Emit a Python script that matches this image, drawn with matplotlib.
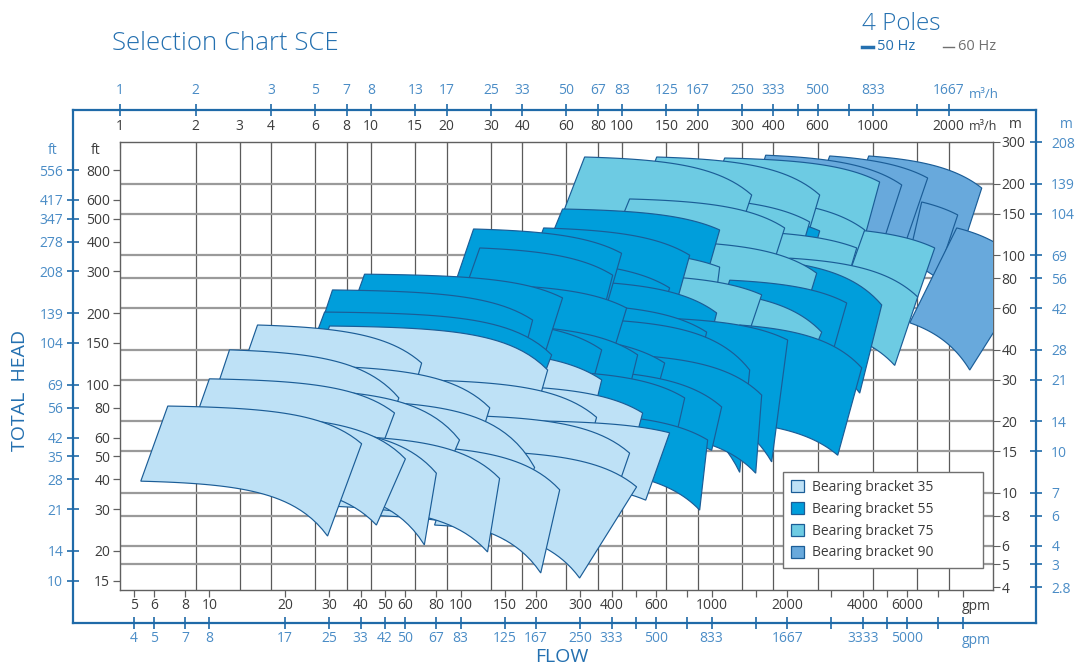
import numpy as np
import matplotlib.pyplot as plt
from matplotlib.patches import Polygon, Patch
from matplotlib.ticker import NullFormatter, NullLocator

plt.rcParams['font.family'] = ['Open Sans', 'DejaVu Sans']

# ---- axis values ----
flow_ticks = [1, 2, 3, 4, 6, 8, 10, 15, 20, 30, 40, 60, 80, 100, 150, 200, 300, 400, 600, 1000, 2000]
flow_60_pos = [1, 2, 4, 6, 8, 10, 15, 20, 30, 40, 60, 80, 100, 150, 200, 300, 400, 600, 1000, 2000]
flow_60_lab = ['1', '2', '3', '5', '7', '8', '13', '17', '25', '33', '50', '67', '83', '125', '167',
               '250', '333', '500', '833', '1667']
gpm_ticks = [5, 6, 8, 10, 20, 30, 40, 50, 60, 80, 100, 150, 200, 300, 400, 600, 1000, 2000, 4000, 6000]
gpm_60_lab = ['4', '5', '7', '8', '17', '25', '33', '42', '50', '67', '83', '125', '167', '250', '333',
              '500', '833', '1667', '3333', '5000']
gpm_minor = [500, 800, 1500, 3000, 5000, 8000, 10000]
head_m = [300, 200, 150, 100, 80, 60, 40, 30, 20, 15, 10, 8, 6, 5, 4]
head_m_60 = ['208', '139', '104', '69', '56', '42', '28', '21', '14', '10', '7', '6', '4', '3', '2.8']
head_ft = [800, 600, 500, 400, 300, 200, 150, 100, 80, 60, 50, 40, 30, 20, 15]
head_ft_60 = ['556', '417', '347', '278', '208', '139', '104', '69', '56', '42', '35', '28', '21', '14', '10']
grid_flow = [2, 3, 4, 6, 8, 10, 15, 20, 30, 40, 60, 80, 100, 150, 200, 300, 400, 600, 1000, 1500, 2000]
grid_head = [200, 150, 100, 80, 60, 40, 30, 20, 15, 10, 8, 6, 5]

GPM = 4.403      # gpm per m3/h
FT = 0.285       # chart's ft label placement (m per ft as drawn)

# ---- pump range tiles: corners top-left, top-right, bottom-right, bottom-left (m3/h, m) ----
bb35_qtl = [3.53, 6.83, 20.5, 2.73, 5.19, 15.6, 24.7, 2.27, 3.60, 6.83, 18.7, 32.5, 1.55, 2.38, 3.66, 6.23, 11.85, 22.5]
bb35_htl = [50.9, 50.4, 40.0, 40.0, 34.4, 29.9, 28.5, 30.2, 27.6, 24.6, 21.3, 20.2, 23.2, 21.3, 19.3, 17.5, 15.9, 15.1]
bb35_qtr = [15.9, 50.5, 82.9, 12.9, 29.7, 79.1, 120.7, 12.4, 22.5, 44.8, 107.1, 154.6, 9.17, 13.7, 18.2, 32.5, 56.4, 114.2]
bb35_htr = [35.2, 32.9, 29.9, 25.1, 22.8, 20.8, 21.7, 21.7, 16.7, 12.8, 14.7, 17.9, 16.1, 13.9, 12.1, 11.5, 10.3, 10.6]
bb35_qbr = [13.0, 40.9, 70.9, 10.3, 24.2, 67.7, 102.3, 9.17, 17.1, 34.0, 81.4, 124.1, 6.71, 10.5, 16.3, 29.1, 47.4, 67.7]
bb35_hbr = [16.7, 15.1, 15.1, 12.5, 11.3, 11.3, 11.3, 9.32, 8.46, 6.34, 6.34, 9.32, 6.58, 7.32, 6.04, 5.64, 4.60, 4.38]
bb35_qbl = [2.78, 5.43, 16.3, 2.17, 4.13, 12.4, 19.6, 1.79, 2.86, 5.43, 14.9, 25.8, 1.21, 1.89, 2.94, 5.00, 9.42, 17.9]
bb35_hbl = [24.6, 24.1, 20.2, 19.3, 16.7, 15.1, 14.4, 14.8, 13.7, 12.5, 10.8, 11.3, 11.2, 11.3, 11.0, 8.88, 8.06, 7.32]

bb55_qtl = [57.9, 25.6, 48.7, 27.1, 293.9, 9.42, 7.02, 6.53, 56.4, 32.5, 81.4, 24.7, 32.5, 46.9, 61.8, 81.4,
            74.2, 107.1, 141.1, 89.2, 89.2, 293.9, 268.2, 293.9]
bb55_htl = [156.7, 129.1, 130.4, 107.4, 149.3, 83.3, 71.5, 57.7, 93.6, 75.0, 77.1, 53.4, 50.9, 46.1, 32.3, 21.3,
            61.8, 38.1, 54.5, 53.4, 32.3, 97.3, 78.6, 50.9]
bb55_qtr = [244.6, 99.5, 185.8, 91.7, 612.2, 57.9, 44.0, 52.4, 154.6, 104.2, 237.9, 82.9, 115.3, 147.7, 177.5, 219.1,
            217.1, 359.6, 456.4, 322.1, 249.1, 1081, 784.3, 900.0]
bb55_htr = [127.9, 102.0, 100.1, 82.5, 126.7, 66.2, 53.4, 38.1, 72.9, 60.0, 57.2, 40.0, 38.1, 35.2, 25.1, 16.7,
            47.5, 25.8, 44.0, 32.9, 23.0, 61.8, 63.0, 33.6]
bb55_qbr = [203.6, 81.4, 157.5, 77.7, 509.6, 46.9, 39.0, 44.8, 128.7, 85.2, 203.6, 70.9, 99.5, 122.9, 157.5, 203.6,
            185.8, 340.4, 394.1, 293.9, 227.3, 883.6, 641.0, 722.3]
bb55_hbr = [64.9, 48.5, 53.4, 41.8, 64.9, 32.9, 32.9, 24.6, 40.0, 29.9, 29.9, 22.3, 20.2, 17.5, 14.4, 8.46,
            24.6, 12.1, 13.5, 12.2, 15.1, 26.3, 29.9, 14.4]
bb55_qbl = [46.9, 21.5, 40.9, 22.9, 233.6, 7.84, 6.12, 5.69, 46.9, 27.1, 67.7, 20.5, 27.1, 39.0, 51.4, 74.2,
            61.8, 93.4, 117.4, 77.7, 77.7, 244.6, 223.2, 233.6]
bb55_hbl = [90.9, 75.0, 78.6, 64.9, 82.5, 48.5, 46.1, 39.2, 53.4, 41.8, 41.8, 29.9, 28.5, 24.6, 18.4, 12.5,
            34.4, 18.4, 24.6, 24.6, 18.4, 44.0, 41.8, 20.2]

bb75_qtl = [70.9, 137.3, 256.1, 107.1, 185.8, 353.1, 671.0, 464.9, 185.8, 141.1, 117.4, 141.1, 353.1]
bb75_htl = [259.4, 259.4, 256.9, 172.7, 174.4, 171.1, 130.4, 97.3, 71.5, 81.7, 103.0, 115.0, 125.5]
bb75_qtr = [328.1, 612.2, 1061, 444.0, 558.5, 924.9, 1758, 1504, 623.5, 359.6, 244.6, 595.6, 859.8]
bb75_htr = [179.5, 179.5, 203.6, 130.4, 138.2, 127.9, 107.4, 66.8, 47.5, 68.2, 89.2, 84.1, 107.4]
bb75_qbr = [256.1, 509.6, 883.6, 359.6, 464.9, 735.6, 1504, 1218, 486.8, 307.6, 227.3, 486.8, 735.6]
bb75_hbr = [82.5, 93.6, 100.1, 64.9, 71.5, 64.9, 66.8, 34.4, 25.1, 41.8, 48.5, 41.8, 61.8]
bb75_qbl = [53.8, 109.1, 203.6, 85.2, 147.7, 280.6, 533.5, 387.0, 154.6, 117.4, 93.4, 112.1, 293.9]
bb75_hbl = [121.9, 134.2, 134.2, 95.5, 100.1, 93.6, 71.5, 52.3, 35.8, 48.5, 71.5, 64.9, 71.5]

bb90_qtl = [373, 671, 960, 1560, 2151]
bb90_htl = [264, 262, 262, 167.7, 130.4]
bb90_qtr = [1299, 1648, 2706, 2171, 4203]
bb90_htr = [197.8, 211.6, 192, 147.9, 82.6]
bb90_qbr = [1014, 1335, 2171, 1791, 2424]
bb90_hbr = [88.5, 110.6, 93.7, 80.3, 32.9]
bb90_qbl = [308, 533, 735, 1373, 1398]
bb90_hbl = [134, 134, 121.8, 93.7, 52.0]

groups = [
    ('Bearing bracket 35', '#bee1f6', bb35_qtl, bb35_htl, bb35_qtr, bb35_htr, bb35_qbr, bb35_hbr, bb35_qbl, bb35_hbl),
    ('Bearing bracket 55', '#009edb', bb55_qtl, bb55_htl, bb55_qtr, bb55_htr, bb55_qbr, bb55_hbr, bb55_qbl, bb55_hbl),
    ('Bearing bracket 75', '#6dcbe3', bb75_qtl, bb75_htl, bb75_qtr, bb75_htr, bb75_qbr, bb75_hbr, bb75_qbl, bb75_hbl),
    ('Bearing bracket 90', '#68a9dc', bb90_qtl, bb90_htl, bb90_qtr, bb90_htr, bb90_qbr, bb90_hbr, bb90_qbl, bb90_hbl),
]
EDGE = '#1b5d97'
BLUE = '#1f6aa8'
LBLUE = '#4a8cc6'
DARK = '#3c3c3c'

W, H = 1076, 665
fig = plt.figure(figsize=(W / 100, H / 100), dpi=100)


def box(x0, y0, x1, y1):
    return [x0 / W, 1 - y1 / H, (x1 - x0) / W, (y1 - y0) / H]


# outer (60 Hz) frame
X0, X1, Y0, Y1 = 120, 993, 142, 590
XL = (1, 3000)
YL = (3.9, 300)
ppd_x = (X1 - X0) / np.log10(XL[1] / XL[0])
ppd_y = (Y1 - Y0) / np.log10(YL[1] / YL[0])
OX0, OX1, OY0, OY1 = 73, 1036, 110, 623
oxl = (XL[0] * 10 ** ((OX0 - X0) / ppd_x), XL[1] * 10 ** ((OX1 - X1) / ppd_x))
oyl = (YL[0] * 10 ** (-(OY1 - Y1) / ppd_y), YL[1] * 10 ** ((Y0 - OY0) / ppd_y))

ox = fig.add_axes(box(OX0, OY0, OX1, OY1), zorder=0)
ox.set_facecolor('none')
ox.set_xscale('log'); ox.set_yscale('log')
ox.set_xlim(oxl); ox.set_ylim(oyl)
for sp in ox.spines.values():
    sp.set_color(BLUE); sp.set_linewidth(1.6)
ox.set_xticks([g / GPM for g in gpm_ticks], labels=gpm_60_lab)
ox.set_xticks([g / GPM for g in gpm_minor], minor=True)
ox.xaxis.set_minor_formatter(NullFormatter())
ox.set_yticks([f * FT for f in head_ft], labels=head_ft_60)
ox.yaxis.set_minor_locator(NullLocator())
ox.tick_params(which='both', direction='inout', length=8, width=1.2, color=BLUE,
               labelcolor=LBLUE, labelsize=10)
ox.tick_params(axis='x', pad=2)
ox.tick_params(axis='y', pad=3)

oxt = ox.twiny()
oxt.set_xscale('log'); oxt.set_xlim(oxl)
oxt.set_xticks(flow_60_pos, labels=flow_60_lab)
oxt.set_xticks([500, 800, 1500], minor=True)
oxt.xaxis.set_minor_formatter(NullFormatter())
oxt.tick_params(which='both', direction='inout', length=8, width=1.2, color=BLUE,
                labelcolor=LBLUE, labelsize=10, pad=5)
oxr = ox.twinx()
oxr.set_yscale('log'); oxr.set_ylim(oyl)
oxr.set_yticks(head_m, labels=head_m_60)
oxr.yaxis.set_minor_locator(NullLocator())
oxr.tick_params(which='both', direction='inout', length=8, width=1.2, color=BLUE,
                labelcolor=LBLUE, labelsize=10, pad=7)
for a in (oxt, oxr):
    for sp in a.spines.values():
        sp.set_visible(False)

# inner (50 Hz) chart
ax = fig.add_axes(box(X0, Y0, X1, Y1), zorder=2)
ax.set_xscale('log'); ax.set_yscale('log')
ax.set_xlim(XL); ax.set_ylim(YL)
for sp in ax.spines.values():
    sp.set_color('#606060'); sp.set_linewidth(1.0)

for q in grid_flow:
    ax.axvline(q, color='#5a5a5a', lw=0.9, zorder=0.5)
for h in grid_head:
    ax.axhline(h, color='#9a9a9a', lw=1.6, zorder=0.5)


def pump_curve(qa, ha, qb, hb, n=36):
    # H = A - B*Q^2 through both end points
    b = (ha - hb) / (qb ** 2 - qa ** 2)
    a = ha + b * qa ** 2
    q = np.geomspace(qa, qb, n)
    return q, a - b * q ** 2


tiles = []
for name, col, qtl, htl, qtr, htr, qbr, hbr, qbl, hbl in groups:
    for i in range(len(qtl)):
        tq, th = pump_curve(qtl[i], htl[i], qtr[i], htr[i])
        bq, bh = pump_curve(qbl[i], hbl[i], qbr[i], hbr[i])
        pts = np.column_stack([np.concatenate([tq, bq[::-1]]), np.concatenate([th, bh[::-1]])])
        key = np.log10(htl[i]) + 0.5 * np.log10(qtl[i])
        tiles.append((key, col, pts))
tiles.sort(key=lambda t: -t[0])
for i, (key, col, pts) in enumerate(tiles):
    ax.add_patch(Polygon(pts, closed=True, facecolor=col, edgecolor=EDGE, lw=0.85,
                         joinstyle='miter', zorder=3 + i * 0.01))

ax.set_xticks([g / GPM for g in gpm_ticks], labels=[str(g) for g in gpm_ticks])
ax.set_xticks([g / GPM for g in gpm_minor], minor=True)
ax.xaxis.set_minor_formatter(NullFormatter())
ax.set_yticks([f * FT for f in head_ft], labels=[str(f) for f in head_ft])
ax.yaxis.set_minor_locator(NullLocator())
ax.tick_params(which='both', direction='out', length=5, width=0.9, color='#606060',
               labelcolor=DARK, labelsize=10)
ax.tick_params(axis='x', pad=1)
ax.tick_params(axis='y', pad=2)

axt = ax.twiny()
axt.set_xscale('log'); axt.set_xlim(XL)
axt.set_xticks(flow_ticks, labels=[str(q) for q in flow_ticks])
axt.xaxis.set_minor_locator(NullLocator())
axt.tick_params(direction='in', length=4, color='#606060', labelcolor=DARK, labelsize=10, pad=6)
axr = ax.twinx()
axr.set_yscale('log'); axr.set_ylim(YL)
axr.set_yticks(head_m, labels=[str(h) for h in head_m])
axr.yaxis.set_minor_locator(NullLocator())
axr.tick_params(direction='out', length=5, color='#606060', labelcolor=DARK, labelsize=10, pad=1)
for a in (axt, axr):
    for sp in a.spines.values():
        sp.set_visible(False)

handles = [Patch(facecolor=g[1], edgecolor=EDGE, lw=0.9) for g in groups]
leg = axr.legend(handles, [g[0] for g in groups], loc='upper left',
                 bbox_to_anchor=(783 / W, 1 - 566 / H, 200 / W, 94 / H), bbox_transform=fig.transFigure,
                 mode='expand', fancybox=False, framealpha=1, edgecolor='#707070', fontsize=10,
                 handlelength=0.95, handleheight=0.95, handletextpad=0.6, labelspacing=0.5,
                 borderpad=0.55, borderaxespad=0, labelcolor=DARK)
leg.set_zorder(20)

# text
fig.text(112 / W, 1 - 44 / H, 'Selection Chart SCE', color='#2470b0', fontsize=18.5, va='center',
         fontweight='light')
fig.text(862 / W, 1 - 24 / H, '4 Poles', color='#2470b0', fontsize=17.5, va='center', fontweight='light')
fig.text(877 / W, 1 - 46 / H, '50 Hz', color='#2470b0', fontsize=10.5, va='center')
fig.text(958 / W, 1 - 46 / H, '60 Hz', color='#707070', fontsize=10.5, va='center')
fig.add_artist(plt.Line2D([862 / W, 873 / W], [1 - 47 / H] * 2, color='#2470b0', lw=2.5))
fig.add_artist(plt.Line2D([943 / W, 954 / W], [1 - 47 / H] * 2, color='#707070', lw=1))
fig.text(984 / W, 1 - 95 / H, 'm³/h', color=LBLUE, fontsize=9.5, va='center', ha='center')
fig.text(983 / W, 1 - 127 / H, 'm³/h', color=DARK, fontsize=9, va='center', ha='center')
fig.text(1015 / W, 1 - 124 / H, 'm', color=DARK, fontsize=10, va='center', ha='center')
fig.text(1066 / W, 1 - 125 / H, 'm', color=LBLUE, fontsize=10, va='center', ha='center')
fig.text(53 / W, 1 - 150 / H, 'ft', color=LBLUE, fontsize=10, va='center', ha='center')
fig.text(96 / W, 1 - 150 / H, 'ft', color=DARK, fontsize=10, va='center', ha='center')
fig.text(976 / W, 1 - 607 / H, 'gpm', color=DARK, fontsize=10, va='center', ha='center')
fig.text(976 / W, 1 - 641 / H, 'gpm', color=LBLUE, fontsize=10, va='center', ha='center')
fig.text(20 / W, 1 - 390 / H, 'TOTAL  HEAD', color='#2470b0', fontsize=14, va='center', ha='center',
         rotation=90)
fig.text(562 / W, 1 - 657 / H, 'FLOW', color='#2470b0', fontsize=14, va='center', ha='center')

fig.savefig('out.png', dpi=100)
